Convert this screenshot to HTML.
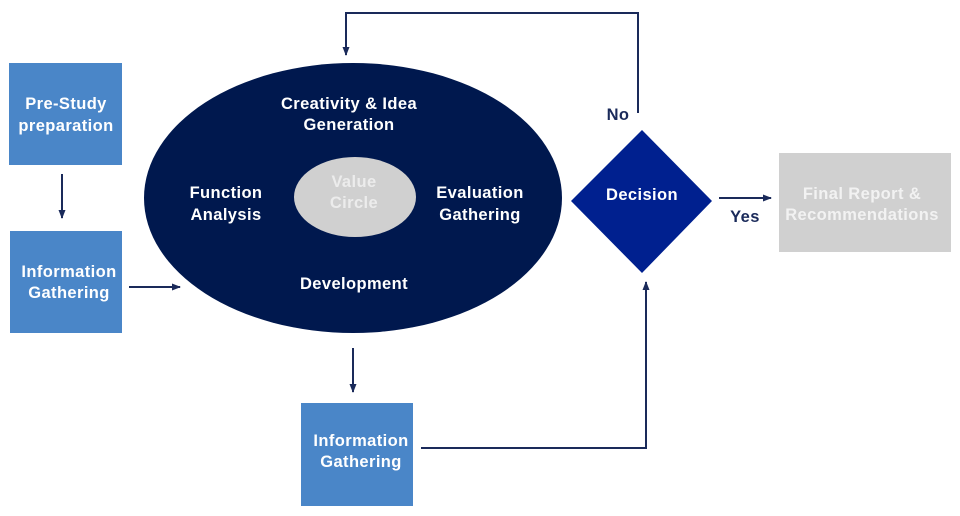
<!DOCTYPE html>
<html>
<head>
<meta charset="utf-8">
<style>
  html,body{margin:0;padding:0;background:#fff;}
  svg{display:block;}
  text{font-family:"Liberation Sans",Arial,sans-serif;font-weight:bold;font-size:16.5px;letter-spacing:0.4px;text-anchor:middle;dominant-baseline:central;}
</style>
</head>
<body>
<svg width="960" height="516" viewBox="0 0 960 516" xmlns="http://www.w3.org/2000/svg">
  <defs>
    <marker id="ah" markerWidth="9" markerHeight="9" refX="8" refY="4.5" orient="auto" markerUnits="userSpaceOnUse">
      <path d="M0,1 L9,4.5 L0,8 Z" fill="#1a2a5a"/>
    </marker>
  </defs>

  <!-- Left boxes -->
  <rect x="9" y="63" width="113" height="102" fill="#4a86c8"/>
  <text x="66" y="104" fill="#fff">Pre-Study</text>
  <text x="66" y="126" fill="#fff">preparation</text>

  <rect x="10" y="231" width="112" height="102" fill="#4a86c8"/>
  <text x="69" y="272" fill="#fff">Information</text>
  <text x="69" y="293" fill="#fff">Gathering</text>

  <line x1="62" y1="174" x2="62" y2="218" stroke="#1a2a5a" stroke-width="2" marker-end="url(#ah)"/>
  <line x1="129" y1="287" x2="180" y2="287" stroke="#1a2a5a" stroke-width="2" marker-end="url(#ah)"/>

  <!-- Main ellipse -->
  <ellipse cx="353" cy="198" rx="209" ry="135" fill="#00184e"/>
  <ellipse cx="355" cy="197" rx="61" ry="40" fill="#d0d0d0"/>
  <text x="349" y="104" fill="#fff">Creativity &amp; Idea</text>
  <text x="349" y="125" fill="#fff">Generation</text>
  <text x="226" y="193" fill="#fff">Function</text>
  <text x="226" y="215" fill="#fff">Analysis</text>
  <text x="480" y="193" fill="#fff">Evaluation</text>
  <text x="480" y="215" fill="#fff">Gathering</text>
  <text x="354" y="284" fill="#fff">Development</text>
  <text x="354" y="182" fill="#ececec">Value</text>
  <text x="354" y="203" fill="#ececec">Circle</text>

  <!-- Feedback loop (No) -->
  <polyline points="638,113 638,13 346,13 346,55" fill="none" stroke="#1a2a5a" stroke-width="2" marker-end="url(#ah)"/>
  <text x="618" y="115" fill="#1a2a5a">No</text>

  <!-- Decision diamond -->
  <polygon points="642,130 712,201 642,273 571,201" fill="#00208f"/>
  <text x="642" y="195" fill="#fff">Decision</text>

  <!-- Yes -->
  <line x1="719" y1="198" x2="771" y2="198" stroke="#1a2a5a" stroke-width="2" marker-end="url(#ah)"/>
  <text x="745" y="217" fill="#1a2a5a">Yes</text>

  <!-- Final report -->
  <rect x="779" y="153" width="172" height="99" fill="#d0d0d0"/>
  <text x="862" y="194" fill="#f2f2f2">Final Report &amp;</text>
  <text x="862" y="215" fill="#f2f2f2">Recommendations</text>

  <!-- Bottom -->
  <line x1="353" y1="348" x2="353" y2="392" stroke="#1a2a5a" stroke-width="2" marker-end="url(#ah)"/>
  <rect x="301" y="403" width="112" height="103" fill="#4a86c8"/>
  <text x="361" y="441" fill="#fff">Information</text>
  <text x="361" y="462" fill="#fff">Gathering</text>

  <polyline points="421,448 646,448 646,282" fill="none" stroke="#1a2a5a" stroke-width="2" marker-end="url(#ah)"/>
</svg>
</body>
</html>
